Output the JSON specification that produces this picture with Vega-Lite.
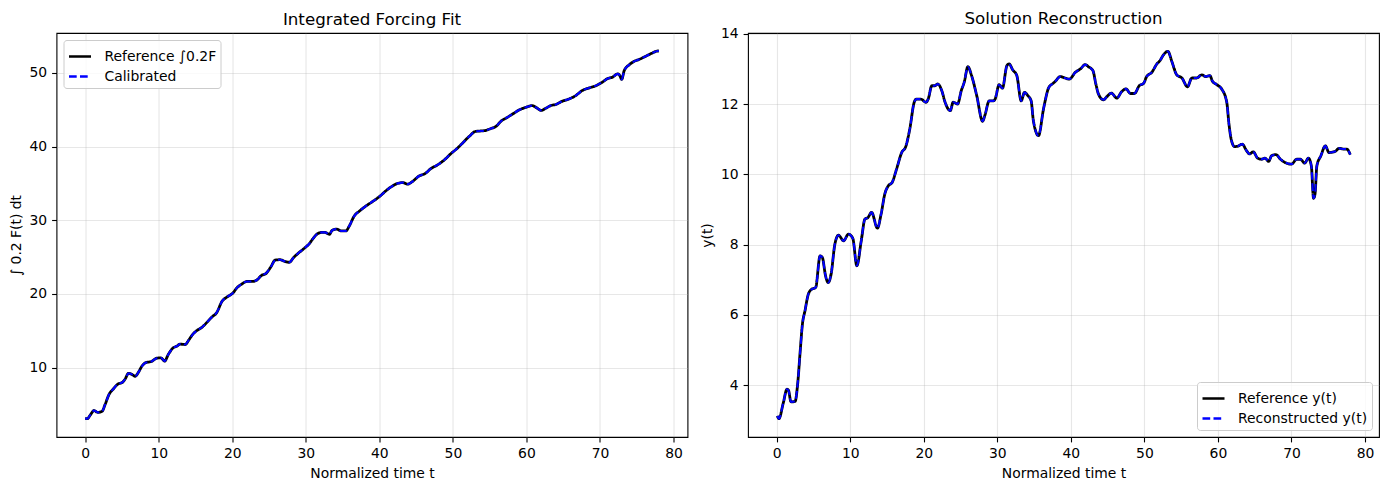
{
  "$schema": "https://vega.github.io/schema/vega-lite/v6.json",
  "padding": {"left": 8.5, "top": 10, "right": 5, "bottom": 5},
  "background": "white",
  "spacing": 11.5,
  "config": {
    "view": {"stroke": "black", "strokeWidth": 1.1},
    "font": "DejaVu Sans",
    "axis": {
      "domain": false,
      "grid": true,
      "gridColor": "#b0b0b0",
      "gridOpacity": 0.3,
      "gridWidth": 1.1,
      "tickColor": "black",
      "tickSize": 4.9,
      "tickWidth": 1.1,
      "labelPadding": 4.9,
      "labelFont": "DejaVu Sans",
      "labelFontSize": 13.9,
      "labelColor": "black",
      "titleFont": "DejaVu Sans",
      "titleFontSize": 13.9,
      "titleFontWeight": "normal",
      "titleColor": "black",
      "titlePadding": 5.6,
      "labelFlush": false,
      "labelOverlap": false
    },
    "title": {"font": "DejaVu Sans", "fontSize": 16.7, "fontWeight": "normal", "color": "black", "offset": 4.3, "anchor": "middle"},
    "legend": {
      "title": null,
      "symbolType": "stroke",
      "symbolSize": 484,
      "symbolStrokeWidth": 2.4,
      "labelFont": "DejaVu Sans",
      "labelFontSize": 13.9,
      "labelColor": "black",
      "labelOffset": 12,
      "rowPadding": 0,
      "padding": 4,
      "offset": 7,
      "strokeColor": "#cccccc",
      "fillColor": "rgba(255,255,255,0.8)",
      "cornerRadius": 3
    }
  },
  "resolve": {"scale": {"color": "independent", "strokeDash": "independent"}, "legend": {"color": "independent", "strokeDash": "independent"}},
  "hconcat": [
    {
      "width": 631,
      "height": 404,
      "title": "Integrated Forcing Fit",
      "data": {"values": [
        {"t":0,"y":3.1},{"t":0.3,"y":3.1},{"t":0.7,"y":3.6},{"t":1.2,"y":4.2},{"t":1.7,"y":3.95},{"t":2.3,"y":4.1},{"t":2.7,"y":5.0},{"t":3.25,"y":6.4},{"t":3.85,"y":7.15},{"t":4.4,"y":7.75},{"t":5.1,"y":8.05},{"t":5.45,"y":8.5},{"t":5.9,"y":9.25},{"t":6.35,"y":9.1},{"t":6.8,"y":8.85},{"t":7.25,"y":9.4},{"t":7.7,"y":10.2},{"t":8.25,"y":10.7},{"t":9.0,"y":10.85},{"t":9.75,"y":11.3},{"t":10.3,"y":11.35},{"t":10.8,"y":10.9},{"t":11.3,"y":11.8},{"t":11.9,"y":12.65},{"t":12.5,"y":12.95},{"t":12.9,"y":13.2},{"t":13.6,"y":13.15},{"t":14.05,"y":13.7},{"t":14.6,"y":14.5},{"t":15.2,"y":15.05},{"t":15.9,"y":15.5},{"t":16.55,"y":16.15},{"t":17.2,"y":16.85},{"t":17.9,"y":17.5},{"t":18.6,"y":19.0},{"t":19.3,"y":19.6},{"t":20.1,"y":20.15},{"t":20.6,"y":20.8},{"t":21.3,"y":21.35},{"t":22.0,"y":21.7},{"t":22.7,"y":21.7},{"t":23.35,"y":21.9},{"t":23.95,"y":22.5},{"t":24.6,"y":22.8},{"t":25.2,"y":23.6},{"t":25.85,"y":24.6},{"t":26.5,"y":24.65},{"t":27.2,"y":24.4},{"t":27.75,"y":24.3},{"t":28.35,"y":24.95},{"t":29.0,"y":25.55},{"t":29.8,"y":26.2},{"t":30.5,"y":26.85},{"t":30.9,"y":27.4},{"t":31.5,"y":28.1},{"t":32.2,"y":28.35},{"t":32.6,"y":28.35},{"t":33.2,"y":28.1},{"t":33.6,"y":28.65},{"t":34.2,"y":28.8},{"t":34.8,"y":28.55},{"t":35.45,"y":28.55},{"t":35.9,"y":29.2},{"t":36.6,"y":30.6},{"t":37.3,"y":31.25},{"t":38.2,"y":31.95},{"t":39.1,"y":32.55},{"t":40.0,"y":33.2},{"t":40.9,"y":34.0},{"t":41.8,"y":34.65},{"t":42.5,"y":35.0},{"t":43.2,"y":35.1},{"t":43.85,"y":34.9},{"t":44.5,"y":35.25},{"t":45.4,"y":36.0},{"t":46.25,"y":36.35},{"t":47.0,"y":37.0},{"t":47.9,"y":37.5},{"t":48.8,"y":38.15},{"t":49.75,"y":39.05},{"t":50.65,"y":39.8},{"t":51.3,"y":40.45},{"t":52.2,"y":41.35},{"t":53.1,"y":42.05},{"t":54.3,"y":42.15},{"t":55.2,"y":42.45},{"t":55.9,"y":42.75},{"t":56.5,"y":43.4},{"t":57.4,"y":43.95},{"t":58.35,"y":44.55},{"t":59.0,"y":44.95},{"t":59.9,"y":45.3},{"t":60.8,"y":45.55},{"t":61.3,"y":45.3},{"t":62.0,"y":44.9},{"t":62.65,"y":45.2},{"t":63.3,"y":45.55},{"t":64.0,"y":45.7},{"t":64.9,"y":46.15},{"t":65.8,"y":46.45},{"t":66.7,"y":46.9},{"t":67.6,"y":47.6},{"t":68.55,"y":47.95},{"t":69.45,"y":48.25},{"t":70.35,"y":48.75},{"t":71.0,"y":49.2},{"t":71.7,"y":49.4},{"t":72.4,"y":49.85},{"t":72.7,"y":49.6},{"t":72.95,"y":49.1},{"t":73.3,"y":50.3},{"t":74.0,"y":51.1},{"t":74.65,"y":51.55},{"t":75.3,"y":51.8},{"t":76.25,"y":52.25},{"t":77.05,"y":52.65},{"t":77.85,"y":52.95},{"t":78.0,"y":52.95}
      ]},
      "encoding": {
        "x": {"field": "t", "type": "quantitative", "title": "Normalized time t", "scale": {"domain": [-3.9, 81.9], "nice": false, "zero": false}, "axis": {"values": [0,10,20,30,40,50,60,70,80]}},
        "y": {"field": "y", "type": "quantitative", "title": "∫ 0.2 F(t) dt", "scale": {"domain": [0.61, 55.39], "nice": false, "zero": false}, "axis": {"values": [10,20,30,40,50]}}
      },
      "layer": [
        {
          "mark": {"type": "line", "strokeWidth": 2.8, "interpolate": "monotone"},
          "encoding": {
            "color": {"datum": "Reference ∫0.2F", "type": "nominal", "scale": {"domain": ["Reference ∫0.2F", "Calibrated"], "range": ["black", "blue"]}, "legend": {"orient": "top-left"}},
            "strokeDash": {"datum": "Reference ∫0.2F", "type": "nominal", "scale": {"domain": ["Reference ∫0.2F", "Calibrated"], "range": [[1, 0], [7.7, 3.3]]}, "legend": {"orient": "top-left"}}
          }
        },
        {
          "mark": {"type": "line", "strokeWidth": 2.1, "interpolate": "monotone"},
          "encoding": {
            "color": {"datum": "Calibrated", "type": "nominal"},
            "strokeDash": {"datum": "Calibrated", "type": "nominal"}
          }
        }
      ]
    },
    {
      "width": 631,
      "height": 404,
      "title": {"text": "Solution Reconstruction", "offset": -0.7},
      "data": {"values": [
        {"t":0.1,"y":3.13},{"t":0.3,"y":3.05},{"t":0.9,"y":3.5},{"t":1.4,"y":3.89},{"t":1.6,"y":3.86},{"t":1.95,"y":3.53},{"t":2.5,"y":3.54},{"t":2.85,"y":4.03},{"t":3.2,"y":4.98},{"t":3.5,"y":5.74},{"t":3.85,"y":6.12},{"t":4.3,"y":6.59},{"t":4.75,"y":6.73},{"t":5.3,"y":6.78},{"t":5.9,"y":7.68},{"t":6.2,"y":7.64},{"t":6.65,"y":7.11},{"t":7.0,"y":6.92},{"t":7.4,"y":7.16},{"t":7.9,"y":8.0},{"t":8.4,"y":8.27},{"t":9.1,"y":8.11},{"t":9.75,"y":8.3},{"t":10.35,"y":8.18},{"t":10.9,"y":7.4},{"t":11.5,"y":8.11},{"t":12.0,"y":8.73},{"t":12.4,"y":8.77},{"t":12.9,"y":8.92},{"t":13.7,"y":8.47},{"t":14.2,"y":8.87},{"t":14.7,"y":9.44},{"t":15.2,"y":9.68},{"t":15.7,"y":9.77},{"t":16.3,"y":10.15},{"t":17.0,"y":10.62},{"t":17.55,"y":10.79},{"t":18.1,"y":11.29},{"t":18.7,"y":12.05},{"t":19.0,"y":12.14},{"t":19.6,"y":12.14},{"t":20.3,"y":12.05},{"t":20.6,"y":12.14},{"t":21.1,"y":12.52},{"t":21.5,"y":12.52},{"t":21.9,"y":12.57},{"t":22.45,"y":12.38},{"t":22.9,"y":12.05},{"t":23.6,"y":11.81},{"t":24.0,"y":12.05},{"t":24.6,"y":12.0},{"t":25.1,"y":12.38},{"t":25.5,"y":12.62},{"t":26.0,"y":13.06},{"t":26.5,"y":12.81},{"t":27.2,"y":12.24},{"t":28.0,"y":11.51},{"t":28.3,"y":11.67},{"t":28.9,"y":12.09},{"t":29.5,"y":12.09},{"t":29.7,"y":12.14},{"t":30.25,"y":12.55},{"t":30.7,"y":12.45},{"t":31.3,"y":13.09},{"t":31.6,"y":13.14},{"t":32.1,"y":12.97},{"t":32.65,"y":12.81},{"t":33.25,"y":12.09},{"t":33.7,"y":12.33},{"t":34.15,"y":12.24},{"t":34.6,"y":12.09},{"t":34.9,"y":11.53},{"t":35.6,"y":11.1},{"t":36.3,"y":11.88},{"t":37.0,"y":12.47},{"t":37.6,"y":12.59},{"t":37.9,"y":12.65},{"t":38.55,"y":12.78},{"t":39.2,"y":12.74},{"t":39.8,"y":12.71},{"t":40.6,"y":12.9},{"t":41.3,"y":13.0},{"t":41.95,"y":13.12},{"t":42.4,"y":13.06},{"t":43.0,"y":12.95},{"t":43.4,"y":12.57},{"t":43.76,"y":12.28},{"t":44.44,"y":12.12},{"t":44.9,"y":12.21},{"t":45.5,"y":12.31},{"t":46.25,"y":12.17},{"t":46.9,"y":12.35},{"t":47.5,"y":12.43},{"t":48.1,"y":12.3},{"t":48.65,"y":12.3},{"t":49.3,"y":12.52},{"t":49.9,"y":12.59},{"t":50.3,"y":12.78},{"t":51.0,"y":12.9},{"t":51.7,"y":13.14},{"t":52.1,"y":13.23},{"t":52.6,"y":13.4},{"t":53.2,"y":13.5},{"t":53.7,"y":13.23},{"t":54.4,"y":12.83},{"t":55.1,"y":12.74},{"t":55.86,"y":12.49},{"t":56.45,"y":12.74},{"t":57.1,"y":12.74},{"t":57.8,"y":12.83},{"t":58.35,"y":12.78},{"t":58.9,"y":12.81},{"t":59.25,"y":12.65},{"t":59.85,"y":12.55},{"t":60.5,"y":12.43},{"t":61.2,"y":12.05},{"t":61.5,"y":11.43},{"t":61.8,"y":11.0},{"t":62.25,"y":10.79},{"t":62.7,"y":10.8},{"t":63.3,"y":10.86},{"t":63.9,"y":10.67},{"t":64.3,"y":10.58},{"t":64.8,"y":10.64},{"t":65.4,"y":10.46},{"t":65.9,"y":10.43},{"t":66.4,"y":10.46},{"t":66.9,"y":10.37},{"t":67.3,"y":10.53},{"t":67.9,"y":10.56},{"t":68.5,"y":10.43},{"t":69.1,"y":10.34},{"t":70.0,"y":10.29},{"t":70.7,"y":10.43},{"t":71.2,"y":10.43},{"t":71.8,"y":10.32},{"t":72.3,"y":10.46},{"t":72.7,"y":10.24},{"t":73.0,"y":9.32},{"t":73.2,"y":9.44},{"t":73.45,"y":10.24},{"t":74.0,"y":10.53},{"t":74.6,"y":10.81},{"t":75.1,"y":10.62},{"t":75.9,"y":10.65},{"t":76.5,"y":10.74},{"t":77.05,"y":10.72},{"t":77.5,"y":10.72},{"t":78.0,"y":10.56}
      ]},
      "encoding": {
        "x": {"field": "t", "type": "quantitative", "title": "Normalized time t", "scale": {"domain": [-3.9, 81.9], "nice": false, "zero": false}, "axis": {"values": [0,10,20,30,40,50,60,70,80]}},
        "y": {"field": "y", "type": "quantitative", "title": "y(t)", "scale": {"domain": [2.53, 14.02], "nice": false, "zero": false}, "axis": {"values": [4,6,8,10,12,14]}}
      },
      "layer": [
        {
          "mark": {"type": "line", "strokeWidth": 2.8, "interpolate": "monotone"},
          "encoding": {
            "color": {"datum": "Reference y(t)", "type": "nominal", "scale": {"domain": ["Reference y(t)", "Reconstructed y(t)"], "range": ["black", "blue"]}, "legend": {"orient": "bottom-right"}},
            "strokeDash": {"datum": "Reference y(t)", "type": "nominal", "scale": {"domain": ["Reference y(t)", "Reconstructed y(t)"], "range": [[1, 0], [7.7, 3.3]]}, "legend": {"orient": "bottom-right"}}
          }
        },
        {
          "mark": {"type": "line", "strokeWidth": 2.1, "interpolate": "monotone"},
          "encoding": {
            "color": {"datum": "Reconstructed y(t)", "type": "nominal"},
            "strokeDash": {"datum": "Reconstructed y(t)", "type": "nominal"}
          }
        }
      ]
    }
  ]
}
